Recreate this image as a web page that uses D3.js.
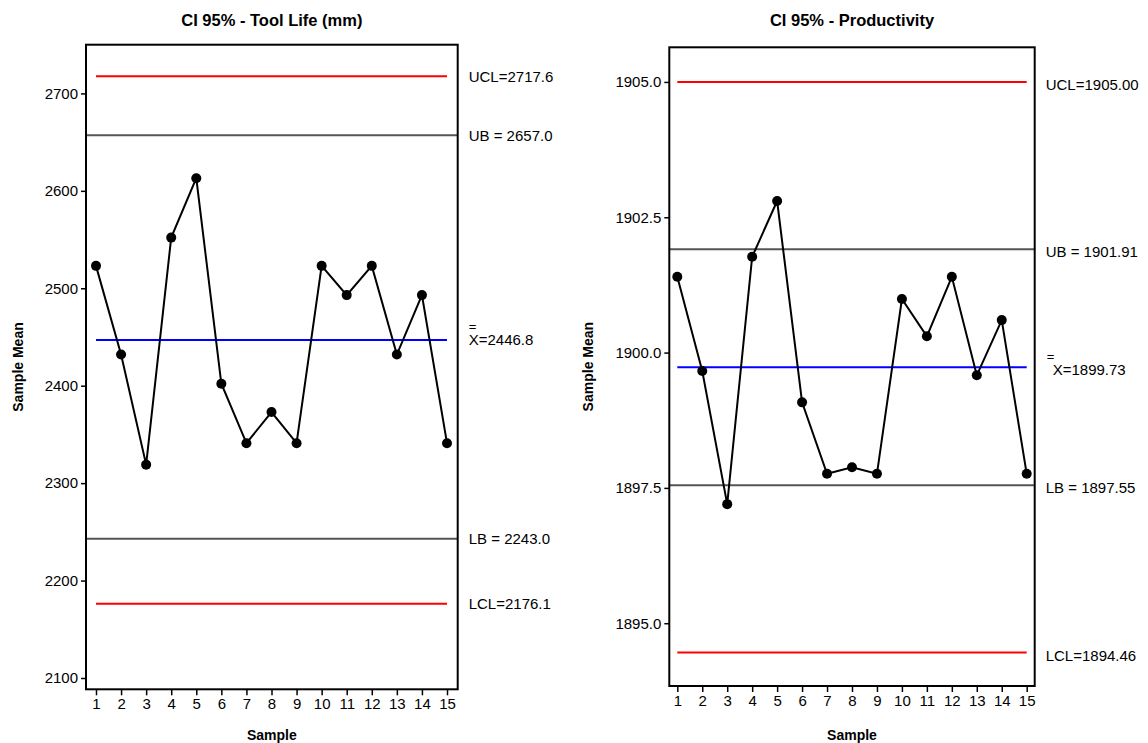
<!DOCTYPE html>
<html>
<head>
<meta charset="utf-8">
<script src="https://cdn.jsdelivr.net/npm/d3@7"></script>
<style>
  body { margin: 0; background: #fff; }
  svg { display: block; font-family: "Liberation Sans", Arial, Helvetica, sans-serif; }
</style>
</head>
<body>
<svg id="chart" width="1148" height="743"></svg>
<script>
// ---------- data ----------
const samples = [1,2,3,4,5,6,7,8,9,10,11,12,13,14,15];

const toolLifeMeans = [2523, 2432, 2319, 2552, 2613, 2402, 2341, 2373, 2341, 2523, 2493, 2523, 2432, 2493, 2341];
const toolLifeLimits = { UCL: 2717.6, UB: 2657.0, CL: 2446.8, LB: 2243.0, LCL: 2176.1 };
const toolLifeTicks = [2100, 2200, 2300, 2400, 2500, 2600, 2700];

const productivityMeans = [1901.40, 1899.66, 1897.20, 1901.77, 1902.80, 1899.08, 1897.76, 1897.88, 1897.76, 1900.99, 1900.30, 1901.40, 1899.58, 1900.60, 1897.76];
const productivityLimits = { UCL: 1905.00, UB: 1901.91, CL: 1899.73, LB: 1897.55, LCL: 1894.46 };
const productivityTicks = [1895.0, 1897.5, 1900.0, 1902.5, 1905.0];

const panels = [
  {
    title: "CI 95% - Tool Life (mm)",
    values: toolLifeMeans, limits: toolLifeLimits, ticks: toolLifeTicks,
    tickFmt: d3.format("d"), labFmt: d3.format(".1f"),
    box: { x0: 86, x1: 457.7, y0: 44.7, y1: 689.3 },
    xRange: [96, 447], yDomain: [2088.4, 2750.0],
    ylabX: 18, labDy: 0, xbarDx: 0
  },
  {
    title: "CI 95% - Productivity",
    values: productivityMeans, limits: productivityLimits, ticks: productivityTicks,
    tickFmt: d3.format(".1f"), labFmt: d3.format(".2f"),
    box: { x0: 669.3, x1: 1034.7, y0: 47.3, y1: 686 },
    xRange: [677.3, 1026.7], yDomain: [1893.84, 1905.64],
    ylabX: 588, labDy: 3, xbarDx: -6
  }
];

const svg = d3.select("#chart");

panels.forEach(p => {
  const b = p.box;
  const x = d3.scaleLinear().domain([1, 15]).range(p.xRange);
  const y = d3.scaleLinear().domain(p.yDomain).range([b.y1, b.y0]);
  const g = svg.append("g");

  // title
  g.append("text")
    .attr("x", (b.x0 + b.x1) / 2).attr("y", 26)
    .attr("text-anchor", "middle")
    .attr("font-weight", "bold").attr("font-size", 16.5)
    .text(p.title);

  // y axis
  const yAxis = d3.axisLeft(y).tickValues(p.ticks).tickFormat(p.tickFmt).tickSize(5).tickPadding(3);
  const ya = g.append("g").attr("transform", `translate(${b.x0},0)`).call(yAxis);
  ya.select(".domain").remove();
  ya.selectAll(".tick line").attr("stroke", "#000").attr("stroke-width", 1.5);
  ya.selectAll(".tick text").attr("font-size", 15).attr("fill", "#000")
    .attr("font-family", "'Liberation Sans', Arial, sans-serif");

  // x axis
  const xAxis = d3.axisBottom(x).tickValues(samples).tickFormat(d3.format("d")).tickSize(6).tickPadding(3);
  const xa = g.append("g").attr("transform", `translate(0,${b.y1})`).call(xAxis);
  xa.select(".domain").remove();
  xa.selectAll(".tick line").attr("stroke", "#000").attr("stroke-width", 1.5);
  xa.selectAll(".tick text").attr("font-size", 15).attr("fill", "#000")
    .attr("font-family", "'Liberation Sans', Arial, sans-serif");

  // axis titles
  g.append("text")
    .attr("x", (b.x0 + b.x1) / 2).attr("y", 740)
    .attr("text-anchor", "middle").attr("font-weight", "bold").attr("font-size", 14)
    .text("Sample");
  g.append("text")
    .attr("transform", `translate(${p.ylabX},${(b.y0 + b.y1) / 2}) rotate(-90)`)
    .attr("text-anchor", "middle").attr("dy", "0.35em")
    .attr("font-weight", "bold").attr("font-size", 14)
    .text("Sample Mean");

  // gray UB / LB lines across full box
  ["UB", "LB"].forEach(k => {
    g.append("line")
      .attr("x1", b.x0).attr("x2", b.x1)
      .attr("y1", y(p.limits[k])).attr("y2", y(p.limits[k]))
      .attr("stroke", "#555").attr("stroke-width", 2);
  });
  // red UCL/LCL
  ["UCL", "LCL"].forEach(k => {
    g.append("line")
      .attr("x1", x(1)).attr("x2", x(15))
      .attr("y1", y(p.limits[k])).attr("y2", y(p.limits[k]))
      .attr("stroke", "#ff0000").attr("stroke-width", 2);
  });
  // blue center line
  g.append("line")
    .attr("x1", x(1)).attr("x2", x(15))
    .attr("y1", y(p.limits.CL)).attr("y2", y(p.limits.CL))
    .attr("stroke", "#0000ff").attr("stroke-width", 2);

  // data line + points
  const line = d3.line().x((d, i) => x(samples[i])).y(d => y(d));
  g.append("path").datum(p.values)
    .attr("d", line).attr("fill", "none")
    .attr("stroke", "#000").attr("stroke-width", 2);
  g.selectAll("circle.pt").data(p.values).enter().append("circle")
    .attr("class", "pt")
    .attr("cx", (d, i) => x(samples[i])).attr("cy", d => y(d))
    .attr("r", 5).attr("fill", "#000");

  // box
  g.append("rect")
    .attr("x", b.x0).attr("y", b.y0)
    .attr("width", b.x1 - b.x0).attr("height", b.y1 - b.y0)
    .attr("fill", "none").attr("stroke", "#000").attr("stroke-width", 2);

  // right-side labels
  const lx = b.x1 + 11;
  const labels = [
    { k: "UCL", t: "UCL=" + p.labFmt(p.limits.UCL) },
    { k: "UB", t: "UB = " + p.labFmt(p.limits.UB) },
    { k: "LB", t: "LB = " + p.labFmt(p.limits.LB) },
    { k: "LCL", t: "LCL=" + p.labFmt(p.limits.LCL) }
  ];
  labels.forEach(l => {
    g.append("text")
      .attr("x", lx).attr("y", y(p.limits[l.k]) + p.labDy)
      .attr("dy", "0.35em").attr("font-size", 15)
      .text(l.t);
  });
  // center label with double bar
  const cy = y(p.limits.CL) + p.labDy;
  const xs = p.xbarDx < 0 ? lx + 7 : lx;
  g.append("text")
    .attr("x", xs).attr("y", cy).attr("dy", "0.35em").attr("font-size", 15)
    .text("X=" + p.labFmt(p.limits.CL));
  g.append("text")
    .attr("x", xs + p.xbarDx).attr("y", cy - 9.5).attr("font-size", 13)
    .text("=");
});
</script>
</body>
</html>
